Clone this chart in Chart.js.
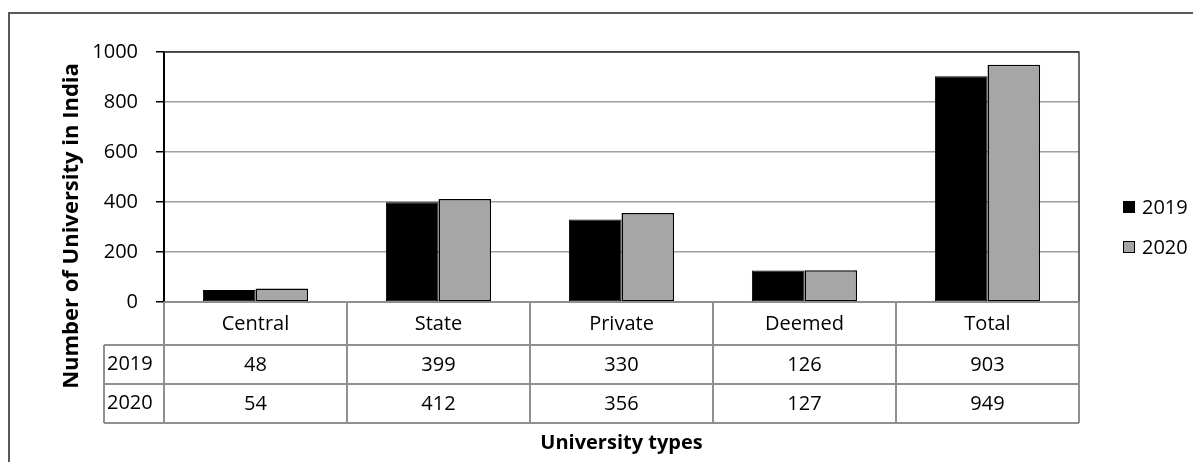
<!DOCTYPE html>
<html>
<head>
<meta charset="utf-8">
<script src="https://cdn.jsdelivr.net/npm/chart.js@4/dist/chart.umd.min.js"></script>
<style>
html,body{margin:0;padding:0;background:#fff;}
#wrap{width:1193px;height:462px;position:relative;}
</style>
</head>
<body>
<div id="wrap"><canvas id="c" width="1193" height="462"></canvas></div>
<script>
const categories = ['Central', 'State', 'Private', 'Deemed', 'Total'];
const seriesNames = ['2019', '2020'];
const values2019 = [48, 399, 330, 126, 903];
const values2020 = [54, 412, 356, 127, 949];
const yTicks = [0, 200, 400, 600, 800, 1000];
const yTitle = 'Number of University in India';
const xTitle = 'University types';

const FONT = '"Open Sans", "DejaVu Sans", sans-serif';
const colors = ['#000000', '#a6a6a6'];
const seriesValues = [values2019, values2020];

const tablePlugin = {
  id: 'tablePlugin',
  afterDraw(chart) {
    const ctx = chart.ctx;
    const ca = chart.chartArea;
    const xs = chart.scales.x;
    const n = categories.length;
    const cw = (ca.right - ca.left) / n;
    const rowH = [43, 39, 39];
    const yTop = ca.bottom;
    const y1 = yTop + rowH[0], y2 = y1 + rowH[1], y3 = y2 + rowH[2];
    const leftCol = ca.left - 60;

    ctx.save();
    // outer frame (left & top)
    ctx.strokeStyle = '#595959';
    ctx.lineWidth = 2;
    ctx.beginPath();
    ctx.moveTo(9, 462); ctx.lineTo(9, 13); ctx.lineTo(1193, 13);
    ctx.stroke();

    // plot area top & right border
    ctx.strokeStyle = '#404040';
    ctx.lineWidth = 1.5;
    ctx.beginPath();
    ctx.moveTo(ca.left, ca.top); ctx.lineTo(ca.right, ca.top); ctx.lineTo(ca.right, ca.bottom);
    ctx.stroke();

    // table grid
    ctx.strokeStyle = '#8f8f8f';
    ctx.lineWidth = 2;
    ctx.beginPath();
    ctx.moveTo(ca.left, yTop); ctx.lineTo(ca.right, yTop);
    [y1, y2, y3].forEach(y => { ctx.moveTo(leftCol, y); ctx.lineTo(ca.right, y); });
    ctx.moveTo(leftCol, y1); ctx.lineTo(leftCol, y3);
    for (let i = 0; i <= n; i++) {
      const x = i < n ? xs.getPixelForValue(i) - cw / 2 : xs.getPixelForValue(n - 1) + cw / 2;
      ctx.moveTo(x, yTop); ctx.lineTo(x, y3);
    }
    ctx.stroke();

    // table texts
    ctx.fillStyle = '#000';
    ctx.font = '20px ' + FONT;
    ctx.textBaseline = 'middle';
    ctx.textAlign = 'center';
    categories.forEach((c, i) => {
      const x = xs.getPixelForValue(i);
      ctx.fillText(c, x, yTop + rowH[0] / 2 + 1);
      ctx.fillText(String(values2019[i]), x, y1 + rowH[1] / 2 + 1);
      ctx.fillText(String(values2020[i]), x, y2 + rowH[2] / 2 + 1);
    });
    ctx.textAlign = 'left';
    ctx.fillText(seriesNames[0], leftCol + 3, y1 + rowH[1] / 2);
    ctx.fillText(seriesNames[1], leftCol + 3, y2 + rowH[2] / 2);

    // x title
    ctx.font = 'bold 20px ' + FONT;
    ctx.textAlign = 'center';
    ctx.fillText(xTitle, (ca.left + ca.right) / 2, 443);

    // y title
    ctx.save();
    ctx.translate(72, 226);
    ctx.rotate(-Math.PI / 2);
    ctx.font = 'bold 22px ' + FONT;
    ctx.fillText(yTitle, 0, 0);
    ctx.restore();

    // legend
    ctx.font = '20px ' + FONT;
    ctx.textAlign = 'left';
    seriesNames.forEach((s, i) => {
      const cy = 207 + i * 40;
      ctx.fillStyle = colors[i];
      ctx.fillRect(1123, cy - 6, 12, 12);
      ctx.strokeStyle = '#000';
      ctx.lineWidth = 1;
      ctx.strokeRect(1123.5, cy - 5.5, 11, 11);
      ctx.fillStyle = '#000';
      ctx.fillText(s, 1142, cy + 1);
    });
    ctx.restore();
  }
};

new Chart(document.getElementById('c'), {
  type: 'bar',
  data: {
    labels: categories,
    datasets: seriesNames.map((name, i) => ({
      label: name,
      data: seriesValues[i],
      backgroundColor: colors[i],
      borderColor: '#000',
      borderWidth: i === 0 ? 1 : 1.5,
      borderSkipped: false,
      categoryPercentage: 0.575,
      barPercentage: 1.0
    }))
  },
  options: {
    responsive: false,
    animation: false,
    devicePixelRatio: 1,
    layout: { padding: { left: 50, right: 114, top: 52, bottom: 160 } },
    plugins: { legend: { display: false }, tooltip: { enabled: false }, title: { display: false } },
    scales: {
      x: { display: false },
      y: {
        min: 0, max: 1000,
        afterFit(scale) { scale.width = 114; },
        afterBuildTicks(scale) { scale.ticks = yTicks.map(v => ({ value: v })); },
        ticks: { color: '#000', font: { family: FONT, size: 20 }, padding: 18, callback: v => String(v) },
        grid: {
          color: ctx => (ctx.tick && ctx.tick.value === 1000) ? '#404040' : '#a0a0a0',
          lineWidth: 1.5,
          tickColor: '#000',
          tickLength: 8
        },
        border: { color: '#000', width: 2 }
      }
    }
  },
  plugins: [tablePlugin]
});
</script>
</body>
</html>
